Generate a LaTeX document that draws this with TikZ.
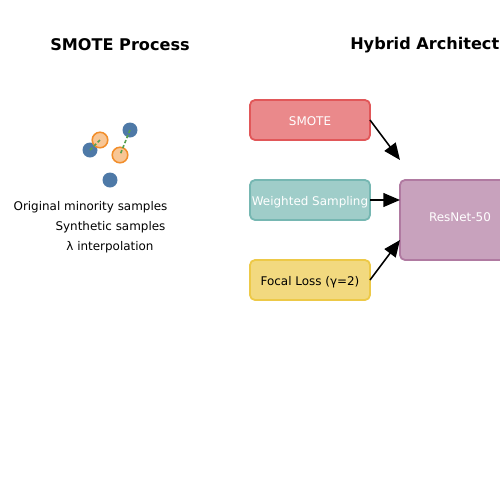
\documentclass[tikz,border=0pt]{standalone}
\usepackage{fontspec}
\setmainfont{DejaVu Sans}
\usepackage{xcolor}
\usepackage{tikz}
\usetikzlibrary{arrows.meta}
\usetikzlibrary{calc}

\definecolor{tabblue}{HTML}{4E79A7}
\definecolor{taborange}{HTML}{F28E2B}
\definecolor{tabgreen}{HTML}{59A14F}
\definecolor{tabred}{HTML}{E15759}
\definecolor{tabteal}{HTML}{76B7B2}
\definecolor{tabyellow}{HTML}{EDC948}
\definecolor{tabpurple}{HTML}{B07AA1}

\begin{document}
\begin{tikzpicture}[
  x=0.72pt, y=-0.72pt,
  font=\fontsize{8.6}{10}\selectfont,
  line width=1.1pt
]
\tikzset{
    titlenode/.style = {inner sep=0pt, font=\fontsize{11.6}{14}\selectfont\bfseries},
    labelnode/.style = {inner sep=0pt},
    stagebox/.style = {rectangle, rounded corners=3.6pt, line width=1.3pt, inner sep=0pt, outer sep=0pt,
                       minimum width=86.4pt, minimum height=28.8pt, text=white,
                       text height=8pt, text depth=0pt},
    origdot/.style = {circle, fill=tabblue, minimum size=10.8pt, inner sep=0pt},
    synthdot/.style = {circle, draw=taborange, fill=taborange!50, minimum size=11.2pt, inner sep=0pt},
    interpline/.style = {draw=tabgreen, line width=1.2pt, dash pattern=on 2.4pt off 1.5pt},
    flowarrow/.style = {-{Triangle[length=12pt,width=10pt]}, line width=1.1pt}
}
\useasboundingbox (0,0) rectangle (500,500);
\clip (0,0) rectangle (500,500);

% titles
\node[titlenode] (smotetitle) at (120,45) {SMOTE Process};
\node[titlenode, anchor=west] (hybridtitle) at (349.5,45) {Hybrid Architecture};

% SMOTE sketch
\node[origdot] (orig1) at (90,150) {};
\node[origdot] (orig2) at (130,130) {};
\node[origdot] (orig3) at (110,180) {};
\node[synthdot] (synth1) at (100,140) {};
\node[synthdot] (synth2) at (120,155) {};
\draw[interpline] (orig1.center) -- (synth1.center);
\draw[interpline] (orig2.center) -- (synth2.center);

\node[labelnode] (origlabel) at (90.5,207) {Original minority samples};
\node[labelnode] (synthlabel) at (110.5,227) {Synthetic samples};
\node[labelnode] (lambdalabel) at (110,247) {λ interpolation};

% hybrid architecture
\node[stagebox, draw=tabred, fill=tabred!70] (smote) at (310,120) {SMOTE};
\node[stagebox, draw=tabteal, fill=tabteal!70] (weighted) at (310,200) {Weighted Sampling};
\node[stagebox, draw=tabyellow, fill=tabyellow!70, text=black] (focal) at (310,280) {Focal Loss (γ=2)};
\node[stagebox, draw=tabpurple, fill=tabpurple!70, minimum height=57.6pt,
      text height=6pt, text depth=4pt] (resnet) at (460,220) {ResNet-50};

\coordinate (smotein) at ($(resnet.north west)+(0,-20)$);
\coordinate (focalin) at ($(resnet.south west)+(0,-20)$);
\draw[flowarrow] (smote.east) -- (smotein);
\draw[flowarrow] (weighted.east) -- (weighted.east -| resnet.west);
\draw[flowarrow] (focal.east) -- (focalin);
\end{tikzpicture}
\end{document}
